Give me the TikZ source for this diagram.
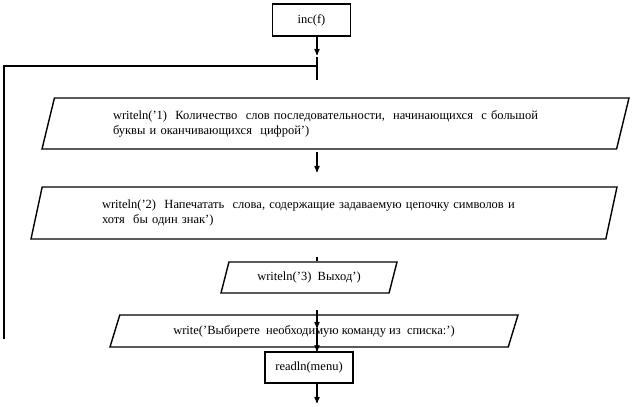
\documentclass[tikz,border=0pt]{standalone}
\usepackage{fontspec}
\setmainfont{Liberation Serif}
\usetikzlibrary{calc}
\usetikzlibrary{arrows,shapes.geometric}
\tikzset{
	>=stealth',
	blok/.style={
		rectangle,
		draw=black, line width=1.4pt,
		minimum height=32pt,
		text centered,
		font=\fontsize{12.5}{15}\selectfont},
	vyvod/.style={
		trapezium,
		trapezium stretches body=true,
		draw=black, line width=1.4pt,
		inner sep=0pt,
		font=\fontsize{12.5}{15}\selectfont},
	line/.style={draw, line width=1.2pt},
}

\begin{document}
\begin{tikzpicture}
	[x=1pt, y=-1pt]
	\useasboundingbox (0,0) rectangle (635,407);
	% the axis on which all the arrows go down
	\coordinate (os) at (317,0);

	\node[blok, minimum width=78pt] (incf) at (311.5,20) {inc(f)};
	\node[vyvod, trapezium left angle=65, trapezium right angle=115,
		minimum width=587pt, minimum height=51pt, text width=445pt, align=left]
		(punkt1) at (335.5,123.5)
		{writeln('1)\ \ Количество\ \ слов последовательности,\ \ начинающихся\ \ с большой\\
		буквы и оканчивающихся\ \ цифрой')};
	\node[vyvod, trapezium left angle=67, trapezium right angle=113,
		minimum width=586pt, minimum height=52pt, text width=444pt, align=left]
		(punkt2) at (324,213)
		{writeln('2)\ \ Напечатать\ \ слова, содержащие задаваемую цепочку символов и\\
		хотя\ \ бы один знак')};
	\node[vyvod, trapezium left angle=55, trapezium right angle=125,
		minimum width=176pt, minimum height=31pt] (punkt3) at (309,277.5)
		{writeln('3)\ \ Выход')};
	\node[vyvod, trapezium left angle=50, trapezium right angle=130,
		minimum width=408pt, minimum height=32pt] (punkt4) at (314,331)
		{write('Выбирете\ \ необходимую команду из\ \ списка:')};
	\node[blok, minimum width=88pt, minimum height=31pt] (menu) at (309,367.5) {readln(menu)};

	% Now the connectors, all of them on the axis
	\coordinate (v1) at (317,55);
	\coordinate (v2) at (317,57);
	\coordinate (v3) at (317,80);
	\coordinate (v4) at (317,66);
	\coordinate (cikl) at (4,339);
	\coordinate (s1) at (317,152);
	\coordinate (s2) at (317,172);
	\coordinate (t1) at (317,257);
	\coordinate (w1) at (317,310);
	\coordinate (w2) at (317,328);
	\coordinate (konec) at (317,403);

	\draw[line,->] (incf.south -| os) -- (v1);
	\draw[line] (v2) -- (v3);
	%% the loop back on the left side
	\draw[line] (cikl) |- (v4);
	\draw[line,->] (s1) -- (s2);
	\draw[line] (t1) -- (punkt3.north -| os);
	\draw[line,->] (w1) -- (w2);
	\draw[line,->] (w2) -- (menu.north -| os);
	\draw[line,->] (menu.south -| os) -- (konec);
\end{tikzpicture}
\end{document}
